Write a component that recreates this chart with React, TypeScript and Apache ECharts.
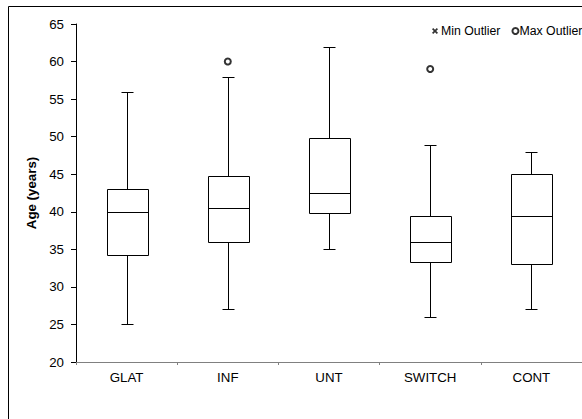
import React, { useEffect, useRef } from "react";
import * as echarts from "echarts";

const categories = ["GLAT", "INF", "UNT", "SWITCH", "CONT"];
const whiskerLow = [25, 27, 35, 26, 27];
const q1 = [34.3, 36, 39.8, 33.3, 33];
const median = [40, 40.5, 42.5, 36, 39.5];
const q3 = [43, 44.7, 49.8, 39.5, 45];
const whiskerHigh = [56, 57.9, 62, 48.9, 48];
const maxOutliers: [number, number][] = [
  [1, 60],
  [3, 59],
];
const minOutliers: [number, number][] = [];

const FONT = "'Liberation Sans', Arial, sans-serif";
const FS = 13.3;
const LFS = 12.3;
const X_ICON =
  "path://M2,0L5,3L8,0L10,2L7,5L10,8L8,10L5,7L2,10L0,8L3,5L0,2Z";

export default function App() {
  const ref = useRef<HTMLDivElement>(null);
  useEffect(() => {
    if (!ref.current) return;
    const chart = echarts.init(ref.current, undefined, { renderer: "svg" });
    const boxData = categories.map((_, i) => [
      i,
      whiskerLow[i],
      q1[i],
      median[i],
      q3[i],
      whiskerHigh[i],
    ]);
    chart.setOption({
      animation: false,
      backgroundColor: "#fff",
      textStyle: { fontFamily: FONT },
      graphic: [
        {
          type: "rect",
          shape: { x: 8.5, y: 6.5, width: 700, height: 600 },
          style: { fill: "none", stroke: "#000", lineWidth: 1 },
          silent: true,
          z: -1,
        },
      ],
      legend: {
        left: 427,
        top: 20,
        width: 220,
        orient: "horizontal",
        itemWidth: 6,
        itemHeight: 6,
        itemGap: 11,
        textStyle: {
          fontFamily: FONT,
          fontSize: LFS,
          color: "#000",
        },
        data: [
          {
            name: "Min Outlier",
            icon: X_ICON,
            itemStyle: { color: "#000", borderWidth: 0 },
            textStyle: { fontFamily: FONT, fontSize: LFS, color: "#000", padding: [0, 0, 0, -2] },
          },
          {
            name: "Max Outlier",
            icon: "circle",
            itemStyle: { color: "#fff", borderColor: "#000", borderWidth: 2 },
            textStyle: { fontFamily: FONT, fontSize: LFS, color: "#000", padding: [0, 0, 0, -4] },
          },
        ],
      },
      grid: { left: 76, top: 24, width: 515, height: 338 },
      xAxis: {
        type: "category",
        data: categories,
        boundaryGap: true,
        axisLine: { lineStyle: { color: "#808080", width: 1 } },
        axisTick: { show: true, length: 3, lineStyle: { color: "#808080" } },
        axisLabel: {
          color: "#000",
          fontSize: FS,
          fontFamily: FONT,
          margin: 9,
        },
        splitLine: { show: false },
      },
      yAxis: {
        type: "value",
        min: 20,
        max: 65,
        interval: 5,
        name: "Age (years)",
        nameLocation: "middle",
        nameGap: 32,
        nameTextStyle: {
          fontSize: FS,
          fontWeight: "bold",
          color: "#000",
          fontFamily: FONT,
        },
        axisLine: { show: true, lineStyle: { color: "#000", width: 1 } },
        axisTick: { show: true, length: 5, lineStyle: { color: "#000" } },
        axisLabel: {
          color: "#000",
          fontSize: FS,
          fontFamily: FONT,
          margin: 12,
        },
        splitLine: { show: false },
      },
      series: [
        {
          type: "custom",
          name: "box",
          data: boxData,
          encode: { x: 0, y: [1, 2, 3, 4, 5] },
          renderItem: (params: any, api: any) => {
            const idx = api.value(0);
            const pLow = api.coord([idx, api.value(1)]);
            const pQ1 = api.coord([idx, api.value(2)]);
            const pMed = api.coord([idx, api.value(3)]);
            const pQ3 = api.coord([idx, api.value(4)]);
            const pHigh = api.coord([idx, api.value(5)]);
            const band = api.size([1, 0])[0];
            const bw = band * 0.405;
            const cw = 12;
            const cx = Math.round(pMed[0]) + 0.5;
            const x0 = Math.round(cx - bw / 2) + 0.5;
            const x1 = Math.round(cx + bw / 2) + 0.5;
            const r = (v: number) => Math.round(v) + 0.5;
            const ln = (a: number, b: number, c: number, d: number) => ({
              type: "line",
              shape: { x1: a, y1: b, x2: c, y2: d },
              style: { stroke: "#000", lineWidth: 1 },
            });
            return {
              type: "group",
              children: [
                ln(cx, r(pHigh[1]), cx, r(pQ3[1])),
                ln(cx, r(pQ1[1]), cx, r(pLow[1])),
                ln(cx - cw / 2, r(pHigh[1]), cx + cw / 2, r(pHigh[1])),
                ln(cx - cw / 2, r(pLow[1]), cx + cw / 2, r(pLow[1])),
                {
                  type: "rect",
                  shape: {
                    x: x0,
                    y: r(pQ3[1]),
                    width: x1 - x0,
                    height: r(pQ1[1]) - r(pQ3[1]),
                  },
                  style: { fill: "#fff", stroke: "#000", lineWidth: 1 },
                },
                ln(x0, r(pMed[1]), x1, r(pMed[1])),
              ],
            };
          },
          z: 2,
        },
        {
          type: "scatter",
          name: "Min Outlier",
          data: minOutliers,
          symbol: X_ICON,
          symbolSize: 6,
          itemStyle: { color: "#000" },
        },
        {
          type: "scatter",
          name: "Max Outlier",
          data: maxOutliers,
          symbol: "circle",
          symbolSize: 6,
          itemStyle: { color: "#fff", borderColor: "#000", borderWidth: 2 },
          z: 3,
        },
      ],
    });
    return () => chart.dispose();
  }, []);
  return (
    <div
      ref={ref}
      style={{ position: "absolute", left: 0, top: 0, width: 582, height: 419 }}
    />
  );
}
